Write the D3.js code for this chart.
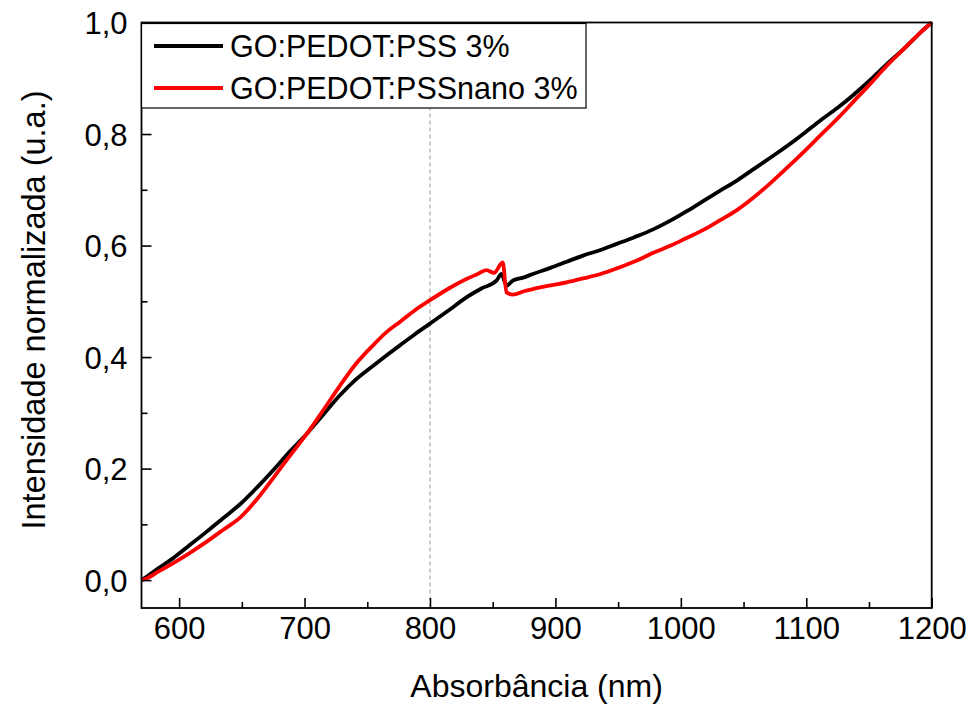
<!DOCTYPE html>
<html><head><meta charset="utf-8">
<script src="https://cdn.jsdelivr.net/npm/d3@7"></script>
<style>body{margin:0;background:#fff}svg{display:block}text{font-family:"Liberation Sans",Arial,sans-serif}</style>
</head><body><svg id="c" width="972" height="704"></svg>
<script>
const seriesNames = ["GO:PEDOT:PSS 3%", "GO:PEDOT:PSSnano 3%"];
const blackX = [570,574,584,595,608,622,635,649,662,675,688,702,715,728,741,755,766,776,788,800,815,829,841,853,857,861,866,875,882,896,909,922,936,949,963,978,992,1005,1018,1031,1045,1058,1071,1085,1098,1111,1125,1138,1151,1164,1178,1191,1200];
const blackY = [0.000,0.006,0.022,0.039,0.062,0.087,0.111,0.137,0.166,0.197,0.230,0.263,0.297,0.331,0.360,0.385,0.404,0.421,0.441,0.460,0.484,0.507,0.523,0.537,0.549,0.528,0.537,0.543,0.549,0.560,0.571,0.582,0.592,0.603,0.615,0.629,0.645,0.662,0.680,0.698,0.717,0.737,0.757,0.779,0.801,0.824,0.847,0.871,0.897,0.925,0.953,0.982,1.000];
const redX = [570,574,584,595,608,622,635,649,662,675,688,702,715,728,741,755,766,776,788,800,815,829,838,845,851,858,861,866,875,882,895,909,922,936,950,965,978,992,1005,1018,1031,1045,1058,1071,1085,1098,1111,1125,1138,1151,1164,1178,1191,1200];
const redY = [0.000,0.003,0.016,0.030,0.048,0.069,0.090,0.113,0.145,0.183,0.222,0.263,0.305,0.348,0.388,0.422,0.446,0.463,0.484,0.502,0.523,0.540,0.549,0.556,0.551,0.570,0.516,0.512,0.518,0.522,0.528,0.534,0.541,0.549,0.560,0.573,0.587,0.600,0.614,0.628,0.645,0.664,0.686,0.711,0.740,0.768,0.797,0.828,0.859,0.890,0.922,0.953,0.982,1.000];
const xTicks = [600,700,800,900,1000,1100,1200];
const xMinor = [650,750,850,950,1050,1150];
const yTicks = [0,0.2,0.4,0.6,0.8,1.0];
const yMinor = [0.1,0.3,0.5,0.7,0.9];
const colors = ["#000000","#ff0000"];

const L=141.5,R=931.7,T=22.5,B=608;
const x=d3.scaleLinear().domain([570,1200]).range([L,R]);
const y=d3.scaleLinear().domain([-0.05,1.0]).range([B,T]);
const svg=d3.select("#c");

// dashed marker at 800
svg.append("line").attr("x1",x(800)).attr("x2",x(800)).attr("y1",T).attr("y2",B)
  .attr("stroke","#9a9a9a").attr("stroke-width",1).attr("stroke-dasharray","4,3");

const line=d3.line().x(d=>x(d[0])).y(d=>y(d[1])).curve(d3.curveMonotoneX);
const data=[d3.zip(blackX,blackY), d3.zip(redX,redY)];
data.forEach((d,i)=>{
  svg.append("path").datum(d).attr("d",line).attr("fill","none")
    .attr("stroke",colors[i]).attr("stroke-width",3.8).attr("stroke-linejoin","round");
});

// axes
const xAx=d3.axisBottom(x).tickValues(xTicks).tickSize(-10).tickFormat(d3.format("d"));
const gx=svg.append("g").attr("transform",`translate(0,${B})`).call(xAx);
svg.append("g").attr("transform",`translate(0,${B})`).call(d3.axisBottom(x).tickValues(xMinor).tickSize(-6).tickFormat(""))
  .call(g=>g.select(".domain").remove());
const yAx=d3.axisLeft(y).tickValues(yTicks).tickSize(-10).tickFormat(d=>d3.format(".1f")(d).replace(".",","));
const gy=svg.append("g").attr("transform",`translate(${L},0)`).call(yAx);
svg.append("g").attr("transform",`translate(${L},0)`).call(d3.axisLeft(y).tickValues(yMinor).tickSize(-6).tickFormat(""))
  .call(g=>g.select(".domain").remove());
svg.selectAll(".tick line").attr("stroke","#000").attr("stroke-width",1.6);
gx.select(".domain").remove(); gy.select(".domain").remove();
svg.selectAll(".tick text").attr("fill","#000").style("font-size","31px").style("font-family","'Liberation Sans',Arial,sans-serif");
gx.selectAll(".tick text").attr("dy",null).attr("y",31);
gy.selectAll(".tick text").attr("dy","0.36em").attr("x",-14);

// frame
svg.append("rect").attr("x",L).attr("y",T).attr("width",R-L).attr("height",B-T)
  .attr("fill","none").attr("stroke","#000").attr("stroke-width",1.8);

// legend
const lg=svg.append("g");
lg.append("rect").attr("x",L).attr("y",T+1).attr("width",586-L).attr("height",108-T-1)
  .attr("fill","#fff").attr("stroke","#000").attr("stroke-width",1.2);
seriesNames.forEach((n,i)=>{
  const yy=46+i*42;
  lg.append("line").attr("x1",154).attr("x2",223).attr("y1",yy).attr("y2",yy).attr("stroke",colors[i]).attr("stroke-width",3.8);
  lg.append("text").attr("x",230).attr("y",yy+11).text(n).style("font-size","30.5px").attr("fill","#000");
});

// titles
svg.append("text").attr("x",(L+R)/2).attr("y",697).attr("text-anchor","middle").style("font-size","32px").text("Absorbância (nm)");
svg.append("text").attr("transform",`translate(45,${310}) rotate(-90)`).attr("text-anchor","middle").style("font-size","32.5px").text("Intensidade normalizada (u.a.)");
</script></body></html>
